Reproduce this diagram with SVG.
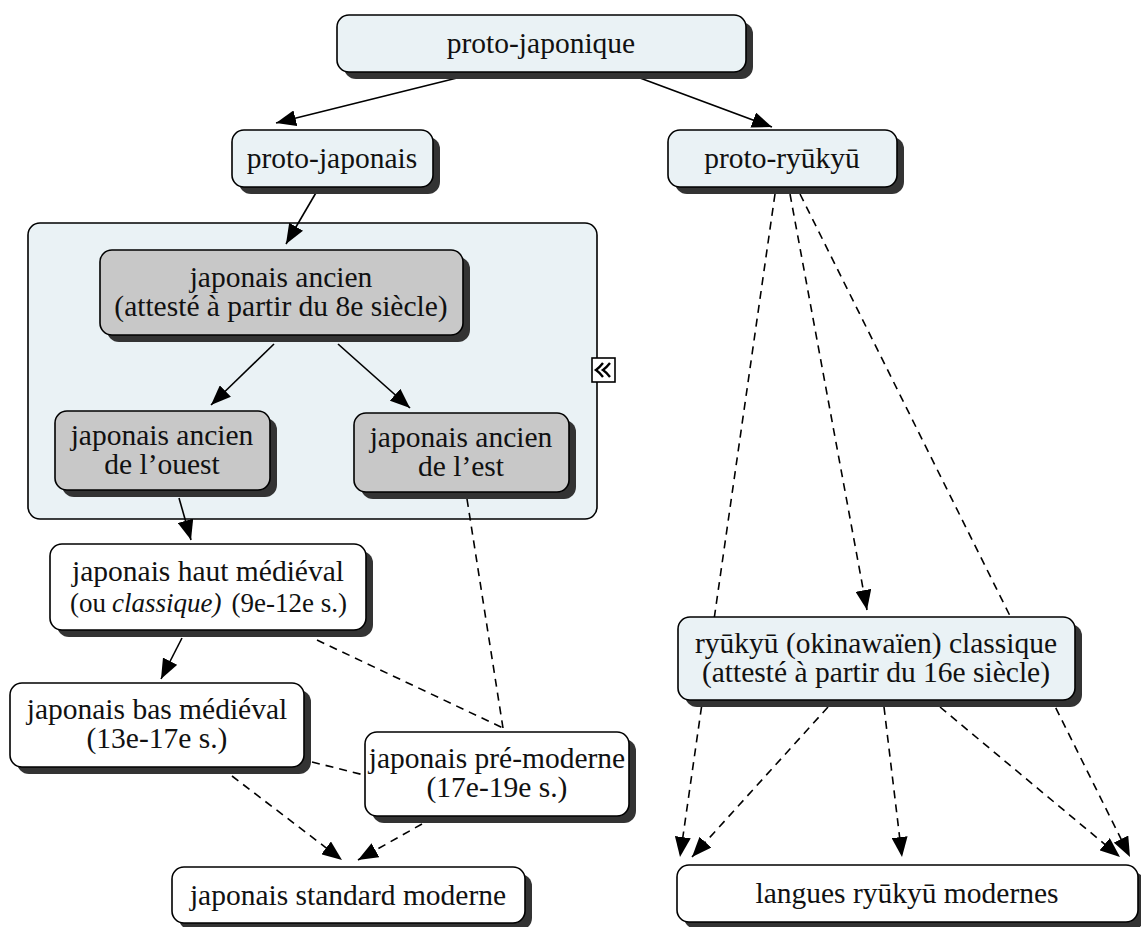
<svg xmlns="http://www.w3.org/2000/svg" width="1141" height="927" viewBox="0 0 1141 927">
  <defs>
    <style>
      .sh { fill: #333333; }
      .box { stroke: #000; stroke-width: 1.6; }
      .lt { fill: #EAF2F5; }
      .gr { fill: #C8C8C8; }
      .wh { fill: #FFFFFF; }
      text { font-size: 29.5px; fill: #111; }
      .c { text-anchor: middle; }
      .sm { font-size: 27px; }
      .e { fill: none; stroke: #000; stroke-width: 1.6; }
      .d { stroke-dasharray: 8 6; }
    </style>
    <marker id="ah" viewBox="0 0 20 16" refX="20" refY="8" markerWidth="20" markerHeight="16" markerUnits="userSpaceOnUse" orient="auto">
      <path d="M0,0 L20,8 L0,16 Z" fill="#000"/>
    </marker>
  </defs>
  <rect x="0" y="0" width="1141" height="927" fill="#FFFFFF"/>

  <g id="n-groupe-ancien">
    <rect x="28" y="223" width="569" height="296" rx="12" ry="12" fill="#EAF2F5" stroke="#000" stroke-width="1.6"/>
    <rect x="592" y="358" width="23" height="24" fill="#FFFFFF" stroke="#000" stroke-width="1.6"/>
    <path d="M603,363 Q599,368 596,370 Q599,372 603,377 M610,363 Q606,368 603,370 Q606,372 610,377" fill="none" stroke="#000" stroke-width="2.4"/>
  </g>

  <g id="connectors">
    <path class="e" d="M457,78 L276,123" marker-end="url(#ah)"/>
    <path class="e" d="M640,78 L772,127" marker-end="url(#ah)"/>
    <path class="e" d="M317,191 L286,244" marker-end="url(#ah)"/>
    <path class="e" d="M274,344 L211,405" marker-end="url(#ah)"/>
    <path class="e" d="M338,344 L410,408" marker-end="url(#ah)"/>
    <path class="e" d="M179,498 L191,540" marker-end="url(#ah)"/>
    <path class="e" d="M182,638 L161,679" marker-end="url(#ah)"/>
    <path class="e d" d="M467,499 L503,728"/>
    <path class="e d" d="M317,640 L503,728"/>
    <path class="e d" d="M312,762 L364,775"/>
    <path class="e d" d="M232,776 L342,860" marker-end="url(#ah)"/>
    <path class="e d" d="M422,824 L358,860" marker-end="url(#ah)"/>
    <path class="e d" d="M775,194 L680,857" marker-end="url(#ah)"/>
    <path class="e d" d="M790,194 L867,610" marker-end="url(#ah)"/>
    <path class="e d" d="M800,194 L1130,857" marker-end="url(#ah)"/>
    <path class="e d" d="M828,707 L692,857" marker-end="url(#ah)"/>
    <path class="e d" d="M884,707 L902,857" marker-end="url(#ah)"/>
    <path class="e d" d="M940,707 L1120,857" marker-end="url(#ah)"/>
  </g>

  <g id="nodes" font-family="'Liberation Serif', Tinos, 'Times New Roman', 'DejaVu Serif', serif">
  <g id="n-proto-japonique">
    <rect class="sh" x="344" y="22" width="409" height="57" rx="12"/>
    <rect class="box lt" x="337" y="15" width="409" height="57" rx="12"/>
    <text class="c" x="541" y="53">proto-japonique</text>
  </g>

  <g id="n-proto-japonais">
    <rect class="sh" x="239" y="137" width="201" height="57" rx="12"/>
    <rect class="box lt" x="232" y="130" width="201" height="57" rx="12"/>
    <text class="c" x="332" y="168">proto-japonais</text>
  </g>

  <g id="n-proto-ryukyu">
    <rect class="sh" x="675" y="137" width="229" height="57" rx="12"/>
    <rect class="box lt" x="668" y="130" width="229" height="57" rx="12"/>
    <text class="c" x="782" y="168">proto-ryūkyū</text>
  </g>

  <g id="n-japonais-ancien">
    <rect class="sh" x="107" y="257" width="363" height="85" rx="12"/>
    <rect class="box gr" x="100" y="250" width="363" height="85" rx="12"/>
    <text class="c" x="281" y="287">japonais ancien</text>
    <text class="c" x="281" y="316">(attesté à partir du 8e siècle)</text>
  </g>

  <g id="n-ancien-ouest">
    <rect class="sh" x="62" y="418" width="215" height="79" rx="12"/>
    <rect class="box gr" x="55" y="411" width="215" height="79" rx="12"/>
    <text class="c" x="162" y="445">japonais ancien</text>
    <text class="c" x="162" y="474">de l’ouest</text>
  </g>

  <g id="n-ancien-est">
    <rect class="sh" x="361" y="420" width="215" height="79" rx="12"/>
    <rect class="box gr" x="354" y="413" width="215" height="79" rx="12"/>
    <text class="c" x="461" y="447">japonais ancien</text>
    <text class="c" x="461" y="476">de l’est</text>
  </g>

  <g id="n-haut-medieval">
    <rect class="sh" x="57" y="551" width="316" height="86" rx="12"/>
    <rect class="box wh" x="50" y="544" width="316" height="86" rx="12"/>
    <text class="c" x="208" y="581">japonais haut médiéval</text>
    <text class="sm" x="70" y="612">(ou</text>
    <text class="sm" x="112" y="612" font-style="italic">classique)</text>
    <text class="sm" x="347" y="612" text-anchor="end">(9e-12e s.)</text>
  </g>

  <g id="n-bas-medieval">
    <rect class="sh" x="17" y="690" width="294" height="84" rx="12"/>
    <rect class="box wh" x="10" y="683" width="294" height="84" rx="12"/>
    <text class="c" x="157" y="719">japonais bas médiéval</text>
    <text class="c" x="157" y="748">(13e-17e s.)</text>
  </g>

  <g id="n-pre-moderne">
    <rect class="sh" x="372" y="739" width="264" height="84" rx="12"/>
    <rect class="box wh" x="365" y="732" width="264" height="84" rx="12"/>
    <text class="c" x="497" y="768">japonais pré-moderne</text>
    <text class="c" x="497" y="797">(17e-19e s.)</text>
  </g>

  <g id="n-standard-moderne">
    <rect class="sh" x="179" y="874" width="353" height="56" rx="12"/>
    <rect class="box wh" x="172" y="867" width="353" height="56" rx="12"/>
    <text class="c" x="348" y="905">japonais standard moderne</text>
  </g>

  <g id="n-ryukyu-classique">
    <rect class="sh" x="685" y="624" width="397" height="83" rx="12"/>
    <rect class="box lt" x="678" y="617" width="397" height="83" rx="12"/>
    <text class="c" x="876" y="653">ryūkyū (okinawaïen) classique</text>
    <text class="c" x="876" y="682">(attesté à partir du 16e siècle)</text>
  </g>

  <g id="n-langues-ryukyu">
    <rect class="sh" x="684" y="872" width="461" height="57" rx="12"/>
    <rect class="box wh" x="677" y="865" width="461" height="57" rx="12"/>
    <text class="c" x="907" y="903">langues ryūkyū modernes</text>
  </g>
  </g>
</svg>
